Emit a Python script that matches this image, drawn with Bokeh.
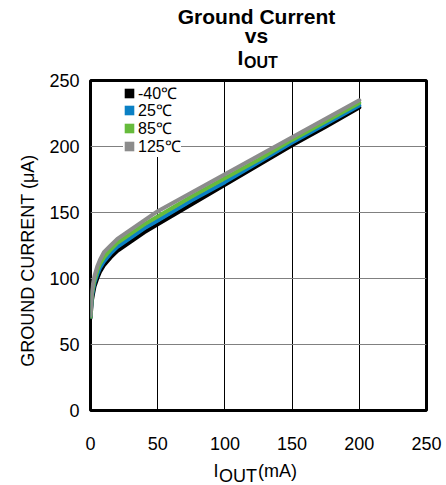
from bokeh.plotting import figure
from bokeh.models import Range1d, FixedTicker, Legend, LegendItem, Label
from bokeh.embed import file_html
from bokeh.resources import INLINE
import math

# ---- data ----
iout_ma = [0, 1, 2, 3, 5, 7, 10, 15, 20, 30, 40, 50, 75, 100, 125, 150, 175, 200]
gc_m40 = [70, 83, 89, 94, 100, 105, 110, 116, 121, 128, 135, 141, 156, 171, 186, 201, 215, 229.5]
gc_25 = [71, 86, 92, 97, 103, 108, 113, 119, 124, 131, 138, 144, 159, 173, 188, 203, 217, 231]
gc_85 = [71, 88, 94, 99, 106, 111, 116, 122, 127, 134, 141, 147, 162, 176, 190, 205, 219, 233]
gc_125 = [72, 90, 97, 102, 109, 114, 120, 125, 130, 137, 144, 151, 165, 179, 193, 207, 221, 235]
series_labels = ["-40\u2103", "25\u2103", "85\u2103", "125\u2103"]
series_colors = ["#000000", "#0b80c4", "#66bb3c", "#8c8c8c"]
x_ticks = [0, 50, 100, 150, 200, 250]
y_ticks = [0, 50, 100, 150, 200, 250]

FONT = "Liberation Sans"
W, H = 446, 485
BL, BR, BT, BB = 90, 20, 80, 75
FW, FH = W - BL - BR, H - BT - BB
XMAX, YMAX = 250, 250

# canvas pixel -> data helpers (for text placement only)
def dx(px):
    return (px - BL) / FW * XMAX

def dy(py):
    return (BT + FH - py) / FH * YMAX

p = figure(width=W, height=H, output_backend="svg", toolbar_location=None,
           x_range=Range1d(0, XMAX), y_range=Range1d(0, YMAX),
           min_border_left=BL, min_border_right=BR, min_border_top=BT, min_border_bottom=BB)

p.background_fill_color = "white"
p.border_fill_color = "white"
p.outline_line_color = "black"
p.outline_line_width = 3

for ax in (p.xaxis, p.yaxis):
    ax.axis_line_color = None
    ax.major_tick_line_color = None
    ax.minor_tick_line_color = None
    ax.major_label_text_font = FONT
    ax.major_label_text_font_size = "18px"
    ax.major_label_text_color = "black"
p.xaxis.ticker = FixedTicker(ticks=x_ticks)
p.yaxis.ticker = FixedTicker(ticks=y_ticks)
p.xaxis.major_label_standoff = 20
p.yaxis.major_label_standoff = 5

p.xgrid.ticker = FixedTicker(ticks=x_ticks)
p.ygrid.ticker = FixedTicker(ticks=y_ticks)
p.xgrid.grid_line_color = "black"
p.xgrid.grid_line_width = 1
p.ygrid.grid_line_color = "#808080"
p.ygrid.grid_line_width = 1.2

series = [gc_m40, gc_25, gc_85, gc_125]
nan = float("nan")
HALF_ITEM = 9.6   # half height of one legend row (px)
PITCH = 17.7      # row pitch in the reference (px)
for i, (lab_txt, col, ys) in enumerate(zip(series_labels, series_colors, series)):
    p.line(iout_ma, ys, line_color=col, line_width=4, line_join="round", line_cap="round")
    # legend swatch only (no visible mark in the plot)
    sq = p.quad(left=[nan], right=[nan], top=[nan], bottom=[nan], fill_color=col, line_color=None)
    center = 94 + i * PITCH
    bottom = center + HALF_ITEM
    lg = Legend(items=[LegendItem(label=lab_txt, renderers=[sq])],
                location=(33, round(BT + FH - bottom)))
    lg.glyph_width = 12
    lg.glyph_height = 12
    lg.label_height = 12
    lg.spacing = 0
    lg.padding = 0
    lg.margin = 0
    lg.label_standoff = 3
    lg.border_line_color = None
    lg.background_fill_color = "white"
    lg.background_fill_alpha = 1.0
    lg.label_text_font = FONT
    lg.label_text_font_size = "16px"
    lg.label_text_color = "black"
    p.add_layout(lg)

def lab(x, y, text, size, place, bold=False, align="left", baseline="alphabetic", angle=0.0):
    p.add_layout(Label(x=x, y=y, text=text, text_align=align, text_baseline=baseline,
                       text_font=FONT, text_font_size=size, angle=angle,
                       text_font_style="bold" if bold else "normal", text_color="black"), place)

# Labels are spread over the side panels only so that their sizes fit the borders.
# ---- title (three lines, subscript) ----
lab(dx(256), dy(16), "Ground Current", "21px", "above", bold=True, align="center")
lab(dx(256), dy(35), "vs", "21px", "left", bold=True, align="center")
lab(dx(237), dy(57), "I", "21px", "right", bold=True)
lab(dx(243.5), dy(62), "OUT", "16px", "above", bold=True)

# ---- x axis label: I_OUT(mA) ----
lab(dx(213), dy(470), "I", "18px", "right")
lab(dx(218.5), dy(475), "OUT", "18px", "below")
lab(dx(257.5), dy(470), "(mA)", "18px", "above")

# ---- y axis label ----
lab(dx(27), dy(260), "GROUND CURRENT (\u03bcA)", "18px", "left", align="center",
    baseline="middle", angle=math.pi / 2)

open("out.html", "w").write(file_html(p, INLINE))
